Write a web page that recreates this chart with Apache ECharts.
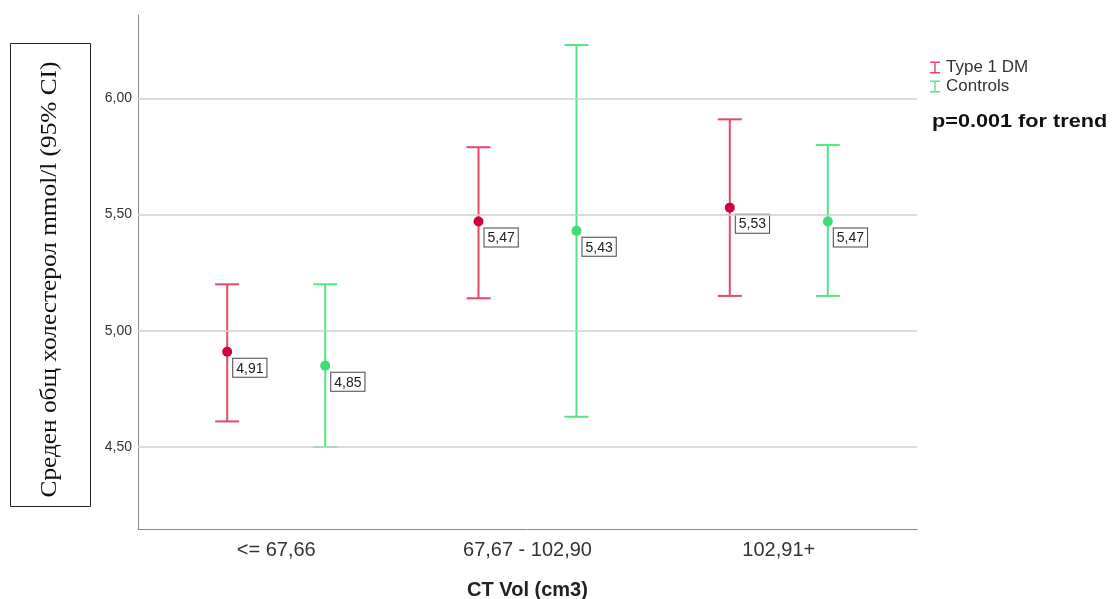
<!DOCTYPE html>
<html>
<head>
<meta charset="utf-8">
<script src="https://cdn.jsdelivr.net/npm/echarts@6/dist/echarts.min.js"></script>
<style>
  html, body { margin: 0; padding: 0; background: #fff; }
  #chart { width: 1113px; height: 599px; }
</style>
</head>
<body>
<div id="chart"></div>
<script>
// categories and values
var categories = ['<= 67,66', '67,67 - 102,90', '102,91+'];
var dmMean = [4.91, 5.47, 5.53];
var dmLow = [4.61, 5.14, 5.15];
var dmHigh = [5.20, 5.79, 5.91];
var ctrlMean = [4.85, 5.43, 5.47];
var ctrlLow = [4.50, 4.63, 5.15];
var ctrlHigh = [5.20, 6.23, 5.80];
var yTicks = [4.5, 5.0, 5.5, 6.0];

var shift = 0.195; // half distance between the two groups inside a category
var red = '#e4486a', redDot = '#d4003a';
var green = '#52e585', greenDot = '#3fdd76';

function comma(v) { return v.toFixed(2).replace('.', ','); }

function barData(low, high, dx) {
  return low.map(function (l, i) { return [i + 1 + dx, l, high[i]]; });
}
function dotData(mean, dx) {
  return mean.map(function (m, i) { return [i + 1 + dx, m]; });
}

function errorBar(color) {
  return function (params, api) {
    var top = api.coord([api.value(0), api.value(2)]);
    var bot = api.coord([api.value(0), api.value(1)]);
    var w = 12;
    var st = { stroke: color, lineWidth: 2 };
    return {
      type: 'group',
      children: [
        { type: 'line', shape: { x1: top[0], y1: top[1], x2: bot[0], y2: bot[1] }, style: st },
        { type: 'line', shape: { x1: top[0] - w, y1: top[1], x2: top[0] + w, y2: top[1] }, style: st },
        { type: 'line', shape: { x1: bot[0] - w, y1: bot[1], x2: bot[0] + w, y2: bot[1] }, style: st }
      ]
    };
  };
}

var boxLabel = {
  show: true,
  position: [11, 12],
  formatter: function (p) { return comma(p.value[1]); },
  color: '#222',
  fontSize: 14,
  fontFamily: 'Arial',
  backgroundColor: '#fff',
  borderColor: '#444',
  borderWidth: 1,
  padding: [3, 3, 1, 3]
};

var iconI = 'path://M0,0H10V1.4H5.7V10.6H10V12H0V10.6H4.3V1.4H0Z';

var chart = echarts.init(document.getElementById('chart'));
chart.setOption({
  animation: false,
  grid: { left: 138, right: 196, top: 15, bottom: 70, outerBoundsMode: 'none' },
  xAxis: {
    type: 'value',
    min: 0.45,
    max: 3.55,
    axisLine: { show: true, lineStyle: { color: '#888', width: 1 } },
    axisTick: { show: false },
    splitLine: { show: false },
    axisLabel: {
      customValues: [1, 2, 3],
      formatter: function (v) { return categories[Math.round(v) - 1]; },
      color: '#333',
      fontSize: 20,
      fontFamily: 'Arial',
      margin: 11
    },
    name: 'CT Vol (cm3)',
    nameLocation: 'middle',
    nameGap: 51,
    nameTextStyle: { fontSize: 20, fontWeight: 'bold', color: '#222', fontFamily: 'Arial' }
  },
  yAxis: {
    type: 'value',
    min: 4.147,
    max: 6.359,
    axisLine: { show: true, lineStyle: { color: '#888', width: 1 } },
    axisTick: { show: false },
    splitLine: { show: false },
    axisLabel: {
      customValues: yTicks,
      formatter: comma,
      color: '#333',
      fontSize: 14,
      fontFamily: 'Arial',
      margin: 6
    }
  },
  legend: {
    orient: 'vertical',
    left: 925,
    top: 54,
    itemGap: 2,
    itemWidth: 12,
    itemHeight: 12,
    textStyle: { fontSize: 17, color: '#333', fontFamily: 'Arial' },
    data: [
      { name: 'Type 1 DM', icon: iconI },
      { name: 'Controls', icon: iconI }
    ]
  },
  graphic: [
    {
      type: 'rect',
      shape: { x: 10.5, y: 43.5, width: 80, height: 463 },
      style: { fill: '#fff', stroke: '#222', lineWidth: 1 }
    },
    {
      type: 'text',
      x: 50,
      y: 279.5,
      rotation: Math.PI / 2,
      scaleX: 1.1,
      style: {
        text: 'Среден общ холестерол mmol/l (95% CI)',
        font: '23px "Liberation Serif", "Times New Roman", serif',
        fill: '#111',
        align: 'center',
        verticalAlign: 'middle'
      }
    },
    {
      type: 'text',
      x: 932,
      y: 122,
      scaleX: 1.14,
      style: {
        text: 'p=0.001 for trend',
        font: 'bold 19px Arial',
        fill: '#111',
        verticalAlign: 'middle'
      }
    }
  ],
  series: [
    {
      name: 'Type 1 DM',
      type: 'custom',
      itemStyle: { color: red },
      renderItem: errorBar(red),
      data: barData(dmLow, dmHigh, -shift),
      z: 2,
      markLine: {
        silent: true,
        symbol: 'none',
        label: { show: false },
        lineStyle: { color: '#cfcfcf', width: 1.5, type: 'solid' },
        data: yTicks.map(function (t) { return { yAxis: t }; })
      }
    },
    {
      name: 'Controls',
      type: 'custom',
      itemStyle: { color: green },
      renderItem: errorBar(green),
      data: barData(ctrlLow, ctrlHigh, shift),
      z: 2
    },
    {
      name: 'Type 1 DM mean',
      type: 'scatter',
      symbolSize: 10,
      itemStyle: { color: redDot, opacity: 1 },
      label: boxLabel,
      data: dotData(dmMean, -shift),
      z: 3
    },
    {
      name: 'Controls mean',
      type: 'scatter',
      symbolSize: 10,
      itemStyle: { color: greenDot, opacity: 1 },
      label: boxLabel,
      data: dotData(ctrlMean, shift),
      z: 3
    }
  ]
});
</script>
</body>
</html>
